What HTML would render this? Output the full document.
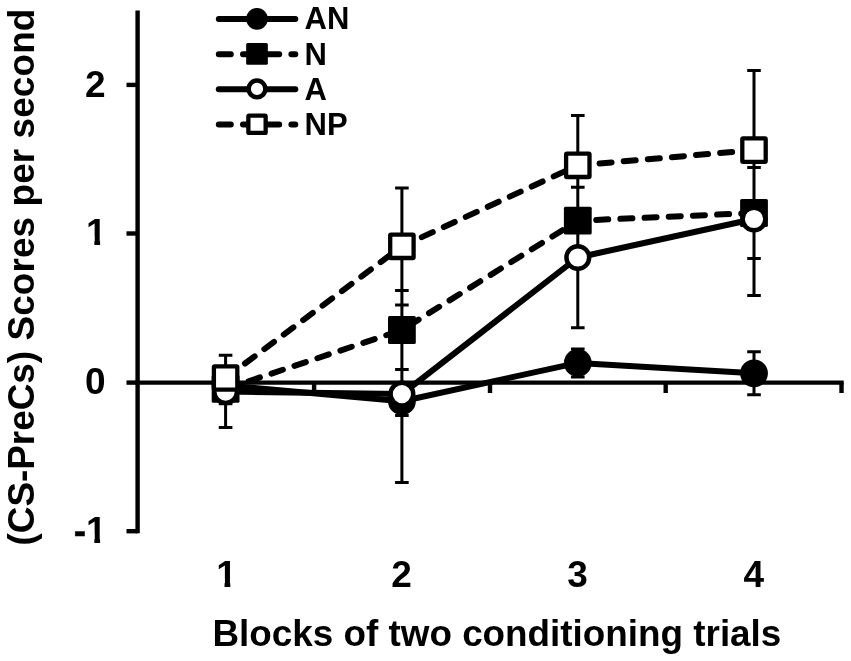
<!DOCTYPE html>
<html><head><meta charset="utf-8"><title>Chart</title>
<style>html,body{margin:0;padding:0;background:#fff}svg{display:block;filter:blur(0.45px)}text{font-family:"Liberation Sans",sans-serif;font-weight:bold;fill:#000}</style></head><body>
<svg width="851" height="661" viewBox="0 0 851 661">
<rect width="851" height="661" fill="#fff"/>
<g stroke="#000" stroke-width="4.4" fill="none" stroke-linecap="butt">
<path d="M137.6 10.6V533.3"/>
<path d="M135.5 382.6H843.7"/>
<path d="M126.5 84.9H137.6"/>
<path d="M126.5 233.5H137.6"/>
<path d="M126.5 382.6H137.6"/>
<path d="M126.5 531.2H137.6"/>
<path d="M314.1 382.6V393"/>
<path d="M490.0 382.6V393"/>
<path d="M665.7 382.6V393"/>
<path d="M841.5 382.6V393"/>
</g>
<g stroke="#000" stroke-width="3" fill="none">
<path d="M225.6 354.7V427.4M218.8 355.2h13.6M218.8 367.2h13.6M218.8 401.3h13.6M218.8 403.8h13.6M218.8 427.4h13.6"/>
<path d="M401.9 188.0V482.6M395.1 188.0h13.6M395.1 290.5h13.6M395.1 305.1h13.6M395.1 369.5h13.6M395.1 386.9h13.6M395.1 415.5h13.6M395.1 482.6h13.6"/>
<path d="M577.8 115.5V327.8M577.8 348.9V376.9M571.0 115.5h13.6M571.0 187.3h13.6M571.0 215.1h13.6M571.0 254.0h13.6M571.0 327.8h13.6M571.0 348.9h13.6M571.0 376.9h13.6"/>
<path d="M754.0 70.6V295.4M754.0 351.8V394.8M747.2 70.6h13.6M747.2 142.6h13.6M747.2 167.5h13.6M747.2 229.6h13.6M747.2 258.5h13.6M747.2 295.4h13.6M747.2 351.8h13.6M747.2 394.8h13.6"/>
</g>
<polyline points="225.6,385.5 401.9,401.2 577.8,362.9 754.0,373.3" fill="none" stroke="#000" stroke-width="6.0" stroke-linecap="round" stroke-linejoin="round"/>
<circle cx="225.6" cy="385.5" r="13.90" fill="#000"/>
<circle cx="401.9" cy="401.2" r="13.90" fill="#000"/>
<circle cx="577.8" cy="362.9" r="13.90" fill="#000"/>
<circle cx="754.0" cy="373.3" r="13.90" fill="#000"/>
<polyline points="225.6,388.9 401.9,330 577.8,220.7 754.0,213" fill="none" stroke="#000" stroke-width="6.0" stroke-linecap="round" stroke-linejoin="round" stroke-dasharray="12 12.2"/>
<rect x="211.70" y="375.00" width="27.80" height="27.80" rx="1.5" fill="#000"/>
<rect x="388.00" y="316.10" width="27.80" height="27.80" rx="1.5" fill="#000"/>
<rect x="563.90" y="206.80" width="27.80" height="27.80" rx="1.5" fill="#000"/>
<rect x="740.10" y="199.10" width="27.80" height="27.80" rx="1.5" fill="#000"/>
<polyline points="225.6,391.6 401.9,394.1 577.8,257.5 754.0,219" fill="none" stroke="#000" stroke-width="6.0" stroke-linecap="round" stroke-linejoin="round"/>
<circle cx="225.6" cy="391.6" r="11.35" fill="#fff" stroke="#000" stroke-width="4.5"/>
<circle cx="401.9" cy="394.1" r="11.35" fill="#fff" stroke="#000" stroke-width="4.5"/>
<circle cx="577.8" cy="257.5" r="11.35" fill="#fff" stroke="#000" stroke-width="4.5"/>
<circle cx="754.0" cy="219" r="11.35" fill="#fff" stroke="#000" stroke-width="4.5"/>
<polyline points="225.6,378 401.9,246.3 577.8,165.3 754.0,150.1" fill="none" stroke="#000" stroke-width="6.0" stroke-linecap="round" stroke-linejoin="round" stroke-dasharray="12 12.2"/>
<rect x="213.90" y="366.30" width="23.40" height="23.40" rx="0.8" fill="#fff" stroke="#000" stroke-width="4.3" stroke-linejoin="round"/>
<rect x="390.20" y="234.60" width="23.40" height="23.40" rx="0.8" fill="#fff" stroke="#000" stroke-width="4.3" stroke-linejoin="round"/>
<rect x="566.10" y="153.60" width="23.40" height="23.40" rx="0.8" fill="#fff" stroke="#000" stroke-width="4.3" stroke-linejoin="round"/>
<rect x="742.30" y="138.40" width="23.40" height="23.40" rx="0.8" fill="#fff" stroke="#000" stroke-width="4.3" stroke-linejoin="round"/>
<path d="M218.8 19.1H295.3" fill="none" stroke="#000" stroke-width="6.0" stroke-linecap="round"/>
<circle cx="257.0" cy="18.85" r="10.84" fill="#000"/>
<text x="304.6" y="29.4" font-size="31">AN</text>
<path d="M218.8 54.2H295.3" fill="none" stroke="#000" stroke-width="6.0" stroke-linecap="round" stroke-dasharray="12 12.2"/>
<rect x="246.16" y="43.11" width="21.68" height="21.68" rx="1.5" fill="#000"/>
<text x="304.6" y="64.5" font-size="31">N</text>
<path d="M218.8 89.15H295.3" fill="none" stroke="#000" stroke-width="6.0" stroke-linecap="round"/>
<circle cx="257.0" cy="88.9" r="8.36" fill="#fff" stroke="#000" stroke-width="4.5"/>
<text x="304.6" y="99.5" font-size="31">A</text>
<path d="M218.8 124.55H295.3" fill="none" stroke="#000" stroke-width="6.0" stroke-linecap="round" stroke-dasharray="12 12.2"/>
<rect x="248.35" y="115.65" width="17.31" height="17.31" rx="0.8" fill="#fff" stroke="#000" stroke-width="4.3" stroke-linejoin="round"/>
<text x="304.6" y="134.8" font-size="31">NP</text>
<defs><clipPath id="nofoot"><path d="M-60 -40H2V-9H-6.45V3H-12.2V-9H-19.5V12H-60Z"/></clipPath></defs>
<g transform="translate(105.70 96.60)"><text x="0" y="0" font-size="37" text-anchor="end">2</text></g>
<g transform="translate(106.55 245.20)" clip-path="url(#nofoot)"><text x="0" y="0" font-size="37" text-anchor="end">1</text></g>
<g transform="translate(105.70 394.30)"><text x="0" y="0" font-size="37" text-anchor="end">0</text></g>
<g transform="translate(106.55 542.90)" clip-path="url(#nofoot)"><text x="0" y="0" font-size="37" text-anchor="end"><tspan dy="0.4" stroke="#000" stroke-width="0.5" stroke-linejoin="round">-</tspan><tspan dy="-0.4">1</tspan></text></g>
<g transform="translate(236.74 587.00)" clip-path="url(#nofoot)"><text x="0" y="0" font-size="37" text-anchor="end">1</text></g>
<g transform="translate(411.89 587.00)"><text x="0" y="0" font-size="37" text-anchor="end">2</text></g>
<g transform="translate(587.79 587.00)"><text x="0" y="0" font-size="37" text-anchor="end">3</text></g>
<g transform="translate(763.99 587.00)"><text x="0" y="0" font-size="37" text-anchor="end">4</text></g>
<text x="212.5" y="646.2" font-size="36.85">Blocks of two conditioning trials</text>
<text transform="translate(34 545.5) rotate(-90)" font-size="36.92"><tspan letter-spacing="-0.02">(CS-PreCs)</tspan><tspan letter-spacing="0.1"> Scores per second</tspan></text>
</svg></body></html>
